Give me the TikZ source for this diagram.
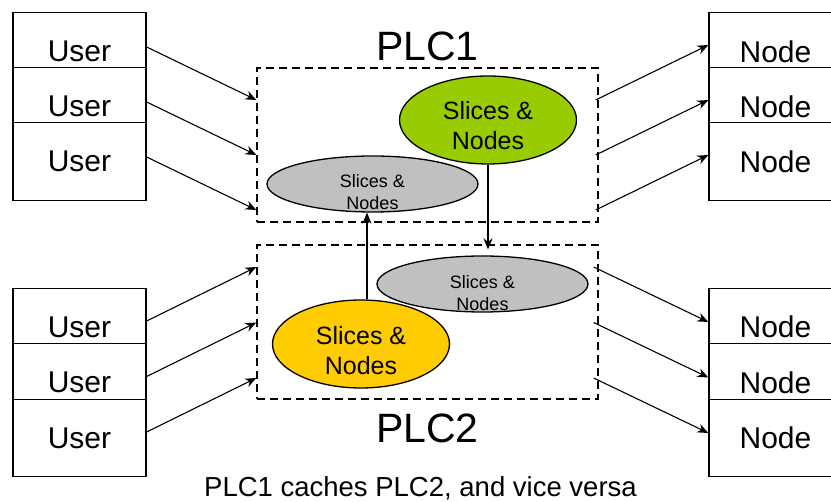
\documentclass[tikz,border=0pt]{standalone}
\usepackage{fontspec}
\setmainfont{Liberation Sans}
\usepackage{xcolor}
\usepackage{tikz}
\usetikzlibrary{positioning}
\usetikzlibrary{arrows.meta, shapes.geometric, calc}

\definecolor{plcgreen}{RGB}{153,204,0}
\definecolor{plcyellow}{RGB}{255,204,0}
\definecolor{plcgrey}{RGB}{192,192,192}

\tikzset{
    member/.style={draw, fill=white, line width=1.3pt, minimum width=133pt, minimum height=77.5pt, inner sep=0pt, font=\fontsize{30}{36}\selectfont},
    plcbox/.style={draw, line width=1.3pt, dash pattern=on 8pt off 5pt, minimum width=341pt, minimum height=154pt, inner sep=0pt},
    plcname/.style={inner sep=0pt, font=\fontsize{41}{49}\selectfont},
    cache/.style={ellipse, draw, line width=1.3pt, inner sep=0pt},
    owncache/.style={cache, minimum width=177pt, minimum height=88pt},
    copycache/.style={cache, fill=plcgrey, minimum width=211pt, minimum height=56pt},
    owntext/.style={align=center, inner sep=0pt, font=\fontsize{25}{30}\selectfont},
    copytext/.style={align=center, inner sep=0pt, font=\fontsize{18}{22}\selectfont},
    flow/.style={-{Stealth[length=11pt,width=9pt]}, line width=1.1pt},
    sync/.style={flow, line width=1.5pt}
}

\begin{document}
\begin{tikzpicture}[x=1pt, y=-1pt]
    \useasboundingbox (0,0) rectangle (831,502);

    % PLC areas
    \node[plcbox] (plc1) at (427.5,145) {};
    \node[plcbox] (plc2) at (427.5,322) {};
    \node[plcname, above=6pt of plc1] (plc1name) {PLC1};
    \node[plcname, below=14pt of plc2] (plc2name) {PLC2};

    % users and nodes
    \foreach \i/\y in {1/51.5, 2/106.5, 3/161.5} {
        \node[member] (ua\i) at (79.5,\y) {User};
        \node[member] (na\i) at (775.5,\y) {Node};
    }
    \foreach \i/\y in {1/327, 2/382.5, 3/438} {
        \node[member] (ub\i) at (79.5,\y) {User};
        \node[member] (nb\i) at (775.5,\y) {Node};
    }

    % slices and nodes
    \node[owncache, fill=plcgreen] (green) at (488,120) {};
    \node[owncache, fill=plcyellow] (yellow) at (361,344) {};
    \node[copycache] (grey1) at (372.5,184) {};
    \node[copycache] (grey2) at (482.5,284) {};
    \node[owntext] (greentext) at ($(green)+(0,6)$) {Slices \&\\Nodes};
    \node[owntext] (yellowtext) at ($(yellow)+(0,7)$) {Slices \&\\Nodes};
    \node[copytext] (grey1text) at ($(grey1)+(0,8.5)$) {Slices \&\\Nodes};
    \node[copytext] (grey2text) at ($(grey2)+(0,9.5)$) {Slices \&\\Nodes};

    % arrows
    \foreach \i in {1,2,3} {
        \draw[flow] ($(ua\i.east)+(0,-4.5)$) -- ($(plc1.west |- ua\i.east)+(0,48.5)$);
        \draw[flow] ($(ub\i.east)+(0,-6)$) -- ($(plc2.west |- ub\i.east)+(0,-60)$);
        \draw[flow] ($(plc1.east |- na\i.west)+(-3,48.5)$) -- ($(na\i.west)+(0,-6.5)$);
        \draw[flow] ($(plc2.east |- nb\i.west)+(-5,-60)$) -- ($(nb\i.west)+(0,-5)$);
    }
    \draw[sync] (green.south) -- ($(green.south |- grey2.north)+(0,-6)$);
    \draw[sync] ($(yellow.north)+(6,0)$) -- ($(yellow.north |- grey1.south)+(6,0)$);

    \node[inner sep=0pt, anchor=base, font=\fontsize{27.5}{33}\selectfont] (caption) at (420.5,497) {PLC1 caches PLC2, and vice versa};
\end{tikzpicture}
\end{document}
